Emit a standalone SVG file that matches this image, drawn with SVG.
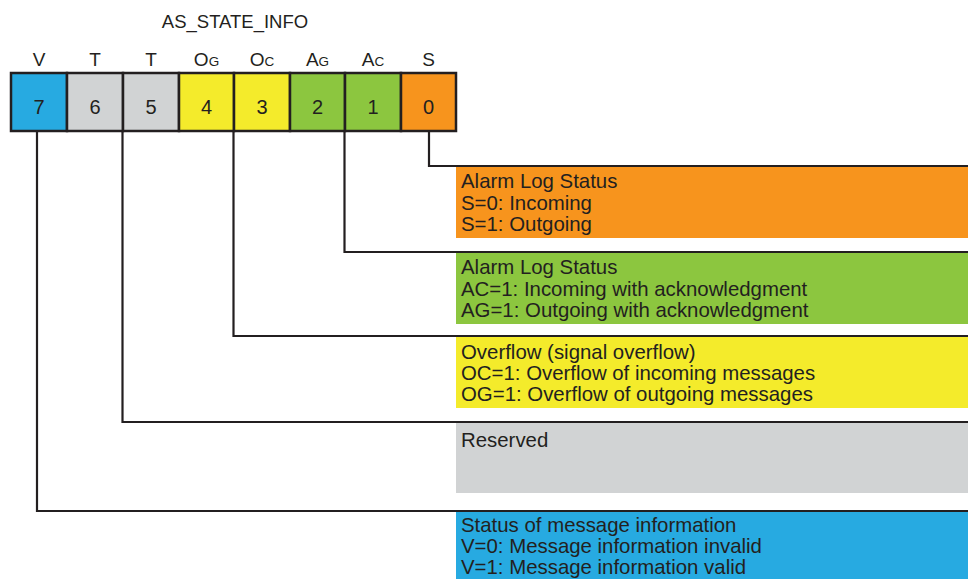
<svg xmlns="http://www.w3.org/2000/svg" width="968" height="579" viewBox="0 0 968 579">
<style>
text{font-family:"Liberation Sans",Arial,sans-serif;fill:#231f20}
.t{font-size:18.5px;text-anchor:middle}
.l{font-size:19px;text-anchor:middle}
.s{font-size:13.5px}
.n{font-size:20px;text-anchor:middle}
.d{font-size:20.4px}
.cell{stroke:#231f20;stroke-width:2.5}
.conn{fill:none;stroke:#231f20;stroke-width:2.2}
</style>
<rect width="968" height="579" fill="#fff"/>
<g id="title"><text class="t" x="235" y="28">AS_STATE_INFO</text></g>
<g id="register">
<rect class="cell" x="11" y="73" width="56" height="58" fill="#27aae1"/>
<rect class="cell" x="67" y="73" width="56" height="58" fill="#d1d3d4"/>
<rect class="cell" x="123" y="73" width="56" height="58" fill="#d1d3d4"/>
<rect class="cell" x="179" y="73" width="55" height="58" fill="#f4eb2b"/>
<rect class="cell" x="234" y="73" width="56" height="58" fill="#f4eb2b"/>
<rect class="cell" x="290" y="73" width="55" height="58" fill="#8cc63f"/>
<rect class="cell" x="345" y="73" width="56" height="58" fill="#8cc63f"/>
<rect class="cell" x="401" y="73" width="55" height="58" fill="#f7941d"/>
<text class="n" x="39" y="113.5">7</text>
<text class="n" x="95" y="113.5">6</text>
<text class="n" x="151" y="113.5">5</text>
<text class="n" x="206.5" y="113.5">4</text>
<text class="n" x="262" y="113.5">3</text>
<text class="n" x="317.5" y="113.5">2</text>
<text class="n" x="373" y="113.5">1</text>
<text class="n" x="428.5" y="113.5">0</text>
<text class="l" x="39" y="66">V</text>
<text class="l" x="95" y="66">T</text>
<text class="l" x="151" y="66">T</text>
<text class="l" x="206.5" y="66">O<tspan class="s">G</tspan></text>
<text class="l" x="262" y="66">O<tspan class="s">C</tspan></text>
<text class="l" x="317.5" y="66">A<tspan class="s">G</tspan></text>
<text class="l" x="373" y="66">A<tspan class="s">C</tspan></text>
<text class="l" x="428.5" y="66">S</text>
</g>
<g id="connectors">
<path class="conn" d="M429,131V166H968"/>
<path class="conn" d="M344.5,131V252H968"/>
<path class="conn" d="M233.5,131V336H968"/>
<path class="conn" d="M122.5,131V422H968"/>
<path class="conn" d="M37,131V511H968"/>
</g>
<g id="desc-s">
<rect x="456" y="167" width="512" height="71" fill="#f7941d"/>
<text class="d" x="461" y="188">Alarm Log Status</text>
<text class="d" x="461" y="210">S=0: Incoming</text>
<text class="d" x="461" y="231">S=1: Outgoing</text>
</g>
<g id="desc-a">
<rect x="456" y="253" width="512" height="71" fill="#8cc63f"/>
<text class="d" x="461" y="274">Alarm Log Status</text>
<text class="d" x="461" y="296">AC=1: Incoming with acknowledgment</text>
<text class="d" x="461" y="317">AG=1: Outgoing with acknowledgment</text>
</g>
<g id="desc-o">
<rect x="456" y="337" width="512" height="71" fill="#f4eb2b"/>
<text class="d" x="461" y="359">Overflow (signal overflow)</text>
<text class="d" x="461" y="380">OC=1: Overflow of incoming messages</text>
<text class="d" x="461" y="401">OG=1: Overflow of outgoing messages</text>
</g>
<g id="desc-t">
<rect x="456" y="423" width="512" height="70" fill="#d1d3d4"/>
<text class="d" x="461" y="447">Reserved</text>
</g>
<g id="desc-v">
<rect x="456" y="512" width="512" height="67" fill="#27aae1"/>
<text class="d" x="461" y="531.5">Status of message information</text>
<text class="d" x="461" y="553">V=0: Message information invalid</text>
<text class="d" x="461" y="574">V=1: Message information valid</text>
</g>
</svg>
